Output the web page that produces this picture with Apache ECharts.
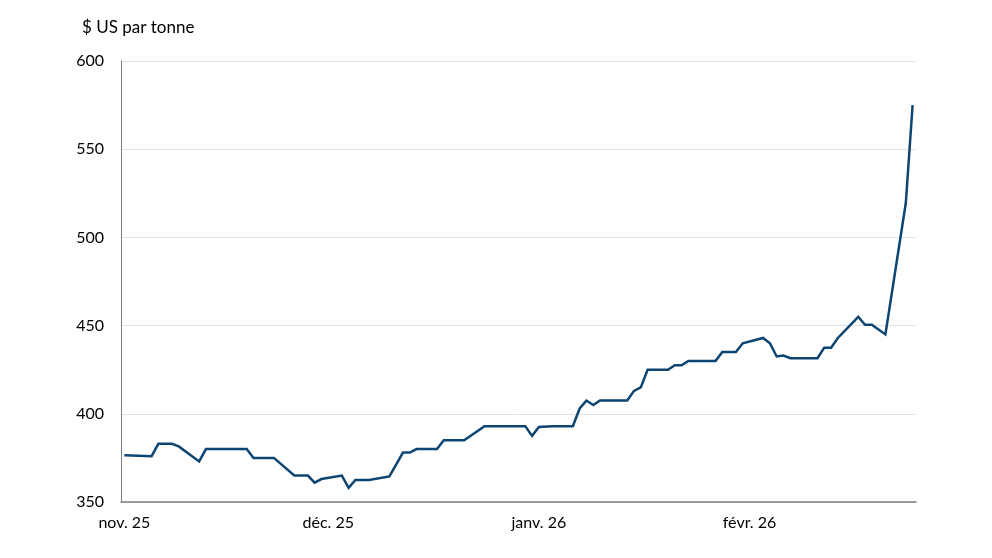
<!DOCTYPE html>
<html>
<head>
<meta charset="utf-8">
<script src="https://cdn.jsdelivr.net/npm/echarts@6/dist/echarts.min.js"></script>
<style>
html,body{margin:0;padding:0;background:#fff;}
#chart{width:992px;height:558px;}
</style>
</head>
<body>
<div id="chart"></div>
<script>
const dates = [
  '2025-11-01','2025-11-05','2025-11-06','2025-11-08','2025-11-09','2025-11-12','2025-11-13',
  '2025-11-19','2025-11-20','2025-11-23','2025-11-26','2025-11-28','2025-11-29','2025-11-30',
  '2025-12-03','2025-12-04','2025-12-05','2025-12-07','2025-12-10','2025-12-12','2025-12-13',
  '2025-12-14','2025-12-17','2025-12-18','2025-12-21','2025-12-24','2025-12-30','2025-12-31',
  '2026-01-01','2026-01-03','2026-01-06','2026-01-07','2026-01-08','2026-01-09','2026-01-10',
  '2026-01-14','2026-01-15','2026-01-16','2026-01-17','2026-01-20','2026-01-21','2026-01-22',
  '2026-01-23','2026-01-27','2026-01-28','2026-01-30','2026-01-31',
  '2026-02-03','2026-02-04','2026-02-05','2026-02-06','2026-02-07','2026-02-11','2026-02-12',
  '2026-02-13','2026-02-14','2026-02-17','2026-02-18','2026-02-19','2026-02-21','2026-02-24',
  '2026-02-25'
];
const prices = [
  376.5, 376, 383, 383, 381.5, 373, 380,
  380, 375, 375, 365, 365, 361, 363,
  365, 358, 362.5, 362.5, 364.5, 378, 378,
  380, 380, 385, 385, 393, 393, 387.5,
  392.5, 393, 393, 403, 407.5, 405, 407.5,
  407.5, 413, 415, 425, 425, 427.5, 427.5,
  430, 430, 435, 435, 440,
  443, 440, 432.5, 433, 431.5, 431.5, 437.5,
  437.5, 443, 455, 450.5, 450.5, 445, 519.5,
  575
];
const monthTicks = ['2025-11-01','2025-12-01','2026-01-01','2026-02-01'];
const monthLabels = ['nov. 25','déc. 25','janv. 26','févr. 26'];
const yTicks = [350, 400, 450, 500, 550, 600];
const yTitle = '$ US par tonne';

const DAY = 86400000;
const base = Date.UTC(2025, 10, 1);
function dayIndex(s){
  const p = s.split('-').map(Number);
  return Math.round((Date.UTC(p[0], p[1]-1, p[2]) - base) / DAY);
}
const seriesData = dates.map((d, i) => [dayIndex(d), prices[i]]);
const tickPos = monthTicks.map(dayIndex);
const lastDay = dayIndex(dates[dates.length-1]);

const FONT = 'Lato';
const chart = echarts.init(document.getElementById('chart'), null, {renderer:'canvas'});
chart.setOption({
  animation: false,
  backgroundColor: '#ffffff',
  textStyle: {fontFamily: FONT},
  grid: {left: 121, right: 76, top: 61, bottom: 56, containLabel: false},
  graphic: [{
    type: 'text', left: 82, top: 19,
    style: {text: yTitle, font: '17px ' + FONT, fill: '#000000'}
  }],
  xAxis: {
    type: 'value',
    min: -0.5,
    max: lastDay + 0.5,
    axisLine: {show: true, onZero: false, lineStyle: {color: '#7f7f7f', width: 1.5}},
    axisTick: {show: false},
    splitLine: {show: false},
    axisLabel: {
      customValues: tickPos,
      margin: 13,
      fontSize: 16,
      fontFamily: FONT,
      color: '#000000',
      formatter: function(v){
        const k = tickPos.indexOf(Math.round(v));
        return k >= 0 ? monthLabels[k] : '';
      }
    }
  },
  yAxis: {
    type: 'value',
    min: yTicks[0],
    max: yTicks[yTicks.length-1],
    interval: 50,
    axisLine: {show: true, onZero: false, lineStyle: {color: '#7f7f7f', width: 1}},
    axisTick: {show: false},
    splitLine: {show: true, lineStyle: {color: '#e3e3e3', width: 1}},
    axisLabel: {margin: 17, fontSize: 16, fontFamily: FONT, color: '#000000'}
  },
  series: [{
    type: 'line',
    data: seriesData,
    showSymbol: false,
    symbol: 'none',
    lineStyle: {color: '#0d4572', width: 2.5, join: 'miter'},
    z: 5
  }]
});
</script>
</body>
</html>
